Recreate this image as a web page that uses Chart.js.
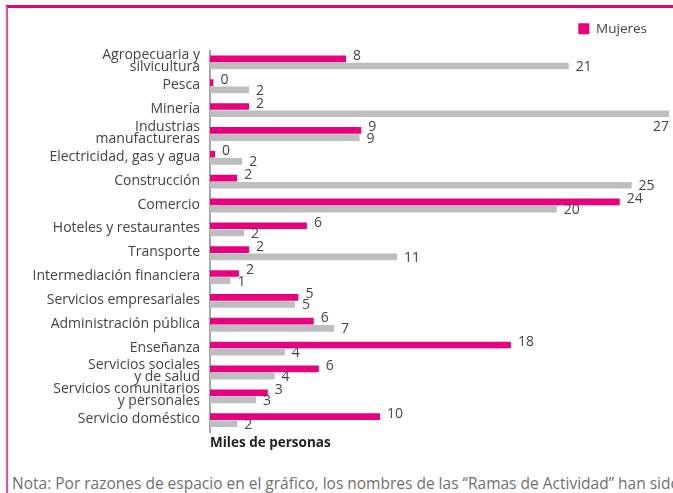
<!DOCTYPE html>
<html lang="es">
<head>
<meta charset="utf-8">
<title>Ocupados por rama de actividad</title>
<script src="https://cdn.jsdelivr.net/npm/chart.js@4.4.1/dist/chart.umd.min.js"></script>
<style>
  html, body { margin: 0; padding: 0; background: #fff; }
  body { width: 673px; height: 493px; overflow: hidden; position: relative; font-family: "Open Sans", sans-serif; }
  .marco { position: absolute; left: 6px; top: 5px; right: -10px; bottom: -10px; border-top: 3px solid #e6007e; border-left: 2px solid #f0489c; }
  #grafico { position: absolute; left: 0; top: 0; }
  .nota { position: absolute; left: 12px; top: 475px; white-space: nowrap; font-size: 15.5px; line-height: 17px; color: #707070; }
</style>
</head>
<body>
<div class="marco"></div>
<canvas id="grafico" width="673" height="460"></canvas>
<div class="nota">Nota: Por razones de espacio en el gráfico, los nombres de las “Ramas de Actividad” han sido abreviados.</div>

<script>
// Ramas de actividad (de arriba hacia abajo)
const ramas = [
    ['Agropecuaria y', 'silvicultura'],
    'Pesca',
    'Minería',
    ['Industrias', 'manufactureras'],
    'Electricidad, gas y agua',
    'Construcción',
    'Comercio',
    'Hoteles y restaurantes',
    'Transporte',
    'Intermediación financiera',
    'Servicios empresariales',
    'Administración pública',
    'Enseñanza',
    ['Servicios sociales', 'y de salud'],
    ['Servicios comunitarios', 'y personales'],
    'Servicio doméstico'
];

// miles de personas
const mujeres = [8.0, 0.2, 2.3, 8.9, 0.3, 1.6, 24.1, 5.7, 2.3, 1.7, 5.2, 6.1, 17.7, 6.4, 3.4, 10.0];
const hombres = [21.1, 2.3, 27.0, 8.8, 1.9, 24.8, 20.4, 2.0, 11.0, 1.2, 5.0, 7.3, 4.4, 3.8, 2.7, 1.6];

const ejeMax = 27;

Chart.defaults.font.family = '"Open Sans", sans-serif';
Chart.defaults.color = '#444';

// etiquetas con el valor al final de cada barra
const etiquetas = {
    id: 'etiquetas',
    afterDatasetsDraw(chart) {
        const ctx = chart.ctx;
        ctx.save();
        ctx.font = '14px "Open Sans", sans-serif';
        ctx.fillStyle = '#444';
        ctx.textBaseline = 'middle';
        ctx.textAlign = 'left';
        chart.data.datasets.forEach((ds, i) => {
            const meta = chart.getDatasetMeta(i);
            meta.data.forEach((bar, j) => {
                const txt = String(Math.round(ds.data[j]));
                const w = ctx.measureText(txt).width;
                let x = bar.x + 7;
                let y = bar.y + (i === 0 ? -3 : 1);
                // si no cabe, va debajo de la barra
                if (x + w > chart.width) {
                    x = bar.x - w;
                    y = bar.y + 13;
                }
                ctx.fillText(txt, x, y);
            });
        });
        ctx.restore();
    }
};

// un poco mas de aire bajo la leyenda
const espacioLeyenda = {
    id: 'espacioLeyenda',
    beforeInit(chart) {
        const fitOriginal = chart.legend.fit;
        chart.legend.fit = function () {
            fitOriginal.bind(chart.legend)();
            this.height += 5;
        };
    }
};

const config = {
    type: 'bar',
    data: {
        labels: ramas,
        datasets: [{
            label: 'Mujeres',
            data: mujeres,
            backgroundColor: '#e8007f',
            borderWidth: 0,
            barPercentage: 0.93,
            categoryPercentage: 0.6
        }, {
            label: 'Hombres',
            data: hombres,
            backgroundColor: '#bebebf',
            borderWidth: 0,
            barPercentage: 0.93,
            categoryPercentage: 0.6
        }]
    },
    options: {
        indexAxis: 'y',
        responsive: false,
        animation: false,
        layout: {
            padding: { top: 0, right: 4, bottom: 4.7, left: 0 }
        },
        plugins: {
            legend: {
                position: 'top',
                align: 'end',
                labels: {
                    boxWidth: 11,
                    boxHeight: 11,
                    padding: 22,
                    color: '#444',
                    font: { size: 13.5 },
                    filter: item => item.datasetIndex === 0
                }
            },
            tooltip: { enabled: false }
        },
        scales: {
            x: {
                min: 0,
                max: ejeMax,
                grid: { display: false, drawTicks: false },
                border: { display: false },
                ticks: { display: false },
                title: {
                    display: true,
                    text: 'Miles de personas',
                    align: 'start',
                    color: '#222',
                    font: { size: 13.5, weight: 'bold' },
                    padding: { top: 3, bottom: 4 }
                }
            },
            y: {
                grid: { display: false, drawTicks: false },
                border: { display: true, color: '#a8a8a8', width: 2 },
                ticks: {
                    padding: 10,
                    color: '#444',
                    labelOffset: -1,
                    autoSkip: false,
                    font: { size: 14, lineHeight: 0.86 }
                },
                afterFit(scale) {
                    scale.width = 210;
                }
            }
        }
    },
    plugins: [etiquetas, espacioLeyenda]
};

window.onload = function () {
    const ctx = document.getElementById('grafico').getContext('2d');
    new Chart(ctx, config);
};
</script>
</body>
</html>
